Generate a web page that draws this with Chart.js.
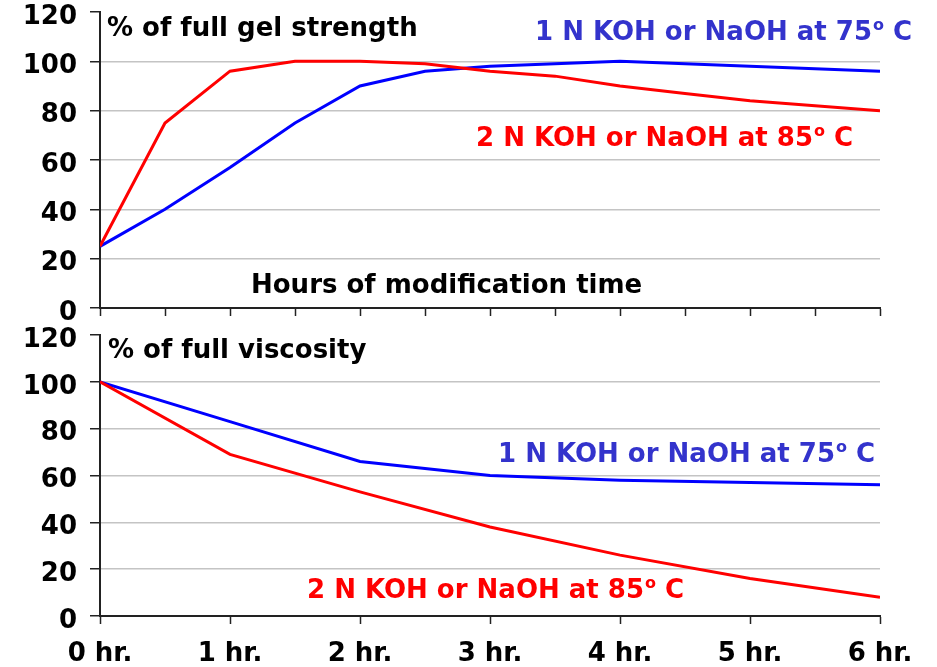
<!DOCTYPE html>
<html>
<head>
<meta charset="utf-8">
<script src="https://cdn.jsdelivr.net/npm/chart.js@4.4.0/dist/chart.umd.min.js"></script>
<style>
  body { margin:0; background:#fff; }
  #wrap { position:relative; width:937px; height:667px; }
  #top, #bot { position:absolute; left:0; }
  #top { top:0; }
  #bot { top:322px; }
</style>
</head>
<body>
<div id="wrap">
  <canvas id="top" width="937" height="322"></canvas>
  <canvas id="bot" width="937" height="345"></canvas>
</div>
<script>
// hours on the x axis
var hoursHalf = [0, 0.5, 1, 1.5, 2, 2.5, 3, 3.5, 4, 4.5, 5, 5.5, 6];
var hoursWhole = [0, 1, 2, 3, 4, 5, 6];
var xTickLabels = ['0 hr.', '1 hr.', '2 hr.', '3 hr.', '4 hr.', '5 hr.', '6 hr.'];
var yTicks = [0, 20, 40, 60, 80, 100, 120];

// % of full gel strength
var gelBlue = [25, 40, 57, 75, 90, 96, 98, 99, 100, 99, 98, 97, 96];
var gelRed  = [25, 75, 96, 100, 100, 99, 96, 94, 90, 87, 84, 82, 80];

// % of full viscosity
var viscBlue = [100, 83, 66, 60, 58, 57, 56];
var viscRed  = [100, 69, 53, 38, 26, 16, 8];

var blueName = '1 N KOH or NaOH at 75\u00ba C';
var redName  = '2 N KOH or NaOH at 85\u00ba C';

var FONT = 'DejaVu Sans';
var FSIZE = 26;
var LINE_BLUE = '#0000ff', LINE_RED = '#ff0000';
var TXT_BLUE = '#3333cc', TXT_RED = '#ff0000';

function pts(xs, ys) {
    var out = [];
    for (var i = 0; i < xs.length; i++) out.push({x: xs[i], y: ys[i]});
    return out;
}

// draws the free text lying on the plot, the º is drawn as a small raised o
var textPlugin = {
    id: 'texts',
    afterDraw: function(chart) {
        var list = chart.options.plugins.texts.items || [];
        var ctx = chart.ctx;
        ctx.save();
        ctx.textAlign = 'left';
        ctx.textBaseline = 'alphabetic';
        list.forEach(function(t) {
            var big = 'bold ' + FSIZE + 'px "' + FONT + '"';
            var small = 'bold ' + Math.round(FSIZE * 0.62) + 'px "' + FONT + '"';
            ctx.fillStyle = t.color;
            var parts = t.text.split('\u00ba');
            var x = t.x;
            for (var i = 0; i < parts.length; i++) {
                ctx.font = big;
                ctx.fillText(parts[i], x, t.y);
                x += ctx.measureText(parts[i]).width;
                if (i < parts.length - 1) {
                    ctx.font = small;
                    ctx.fillText('o', x + 1, t.y - FSIZE * 0.38);
                    x += ctx.measureText('o').width + 1;
                }
            }
        });
        ctx.restore();
    }
};

function makeChart(id, xs, blue, red, opts) {
    var el = document.getElementById(id);
    return new Chart(el.getContext('2d'), {
        type: 'line',
        data: {
            datasets: [
                { label: redName, data: pts(xs, red), borderColor: LINE_RED, borderWidth: 3, pointRadius: 0, tension: 0, fill: false },
                { label: blueName, data: pts(xs, blue), borderColor: LINE_BLUE, borderWidth: 3, pointRadius: 0, tension: 0, fill: false }
            ]
        },
        options: {
            responsive: false,
            animation: false,
            layout: { padding: { left: 0, right: 57, top: opts.top, bottom: 0 } },
            plugins: {
                legend: { display: false },
                tooltip: { enabled: false },
                texts: { items: opts.texts }
            },
            scales: {
                x: {
                    type: 'linear', min: 0, max: 6,
                    afterBuildTicks: function(s) {
                        s.ticks = opts.xVals.map(function(v) { return {value: v}; });
                    },
                    afterFit: function(s) {
                        s.height = opts.xHeight;
                        s.paddingLeft = 0; s.paddingRight = 0;
                    },
                    border: { color: '#222', width: 2 },
                    grid: { drawOnChartArea: false, drawTicks: true, tickLength: 8, tickColor: '#222', tickWidth: 1.5 },
                    ticks: {
                        autoSkip: false, maxRotation: 0, padding: 15,
                        color: '#000',
                        font: { family: FONT, weight: 'bold', size: FSIZE },
                        callback: function(v) { return opts.xLabel ? opts.xLabel(v) : ''; }
                    }
                },
                y: {
                    min: 0, max: 120,
                    afterBuildTicks: function(s) {
                        s.ticks = yTicks.map(function(v) { return {value: v}; });
                    },
                    afterFit: function(s) {
                        s.width = 100;
                        s.paddingTop = 0; s.paddingBottom = 0;
                    },
                    border: { color: '#222', width: 2 },
                    grid: {
                        color: function(c) { return (c.tick && (c.tick.value === 120 || c.tick.value === 0)) ? 'rgba(0,0,0,0)' : '#c4c4c4'; },
                        lineWidth: 1.5,
                        tickLength: 10, tickColor: '#222', tickWidth: 1.5
                    },
                    ticks: {
                        padding: 13, labelOffset: 5, color: '#000',
                        font: { family: FONT, weight: 'bold', size: FSIZE }
                    }
                }
            }
        },
        plugins: [textPlugin]
    });
}

makeChart('top', hoursHalf, gelBlue, gelRed, {
    top: 12,
    xHeight: 322 - 308,
    xVals: hoursHalf,
    xLabel: null,
    texts: [
        { text: '% of full gel strength', x: 107, y: 36, color: '#000' },
        { text: blueName, x: 535, y: 40, color: TXT_BLUE },
        { text: redName, x: 476, y: 146, color: TXT_RED },
        { text: 'Hours of modification time', x: 251, y: 293, color: '#000' }
    ]
});

makeChart('bot', hoursWhole, viscBlue, viscRed, {
    top: 13,
    xHeight: 345 - 294,
    xVals: hoursWhole,
    xLabel: function(v) { return xTickLabels[hoursWhole.indexOf(v)] || ''; },
    texts: [
        { text: '% of full viscosity', x: 108, y: 358 - 322, color: '#000' },
        { text: blueName, x: 498, y: 462 - 322, color: TXT_BLUE },
        { text: redName, x: 307, y: 598 - 322, color: TXT_RED }
    ]
});
</script>
</body>
</html>
